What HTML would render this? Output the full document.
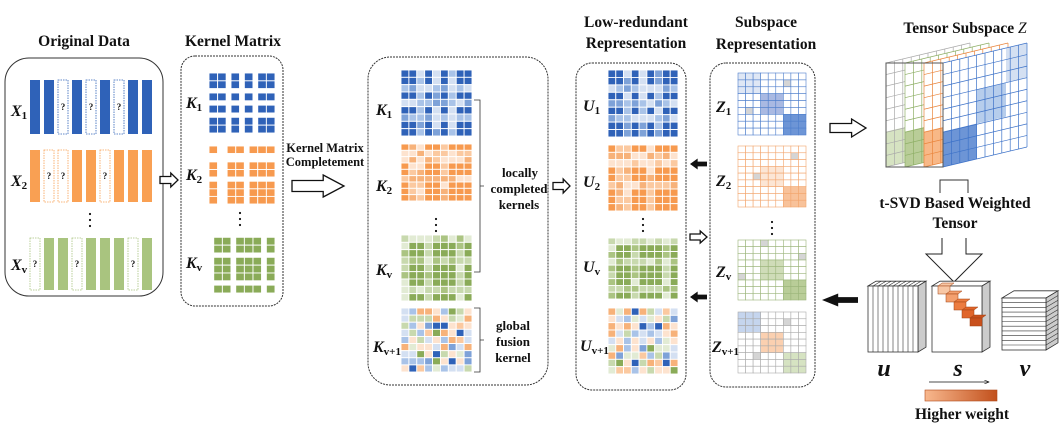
<!DOCTYPE html>
<html><head><meta charset="utf-8"><style>
html,body{margin:0;padding:0;background:#fff;}
svg{display:block;font-family:"Liberation Serif",serif;}
</style></head><body>
<svg id="s" width="1060" height="447" viewBox="0 0 1060 447" xmlns="http://www.w3.org/2000/svg">
<defs>
<marker id="ah" markerWidth="8" markerHeight="6" refX="7" refY="3" orient="auto"><path d="M0,0 L7,3 L0,6" fill="none" stroke="#000" stroke-width="0.8"/></marker>
<linearGradient id="gw" x1="0" x2="1"><stop offset="0" stop-color="#f8b88e"/><stop offset="1" stop-color="#c2501c"/></linearGradient>
</defs>
<g font-weight="bold" font-size="15.5" text-anchor="middle" fill="#111">
<text x="84" y="46">Original Data</text>
<text x="233" y="46">Kernel Matrix</text>
<text x="636" y="27">Low-redundant</text>
<text x="636" y="48">Representation</text>
<text x="766" y="27">Subspace</text>
<text x="766" y="49">Representation</text>
<text x="965" y="33">Tensor Subspace <tspan font-style="italic" font-weight="normal">Z</tspan></text>
<text x="955" y="208">t-SVD Based Weighted</text>
<text x="955" y="228">Tensor</text>
<text x="962" y="419">Higher weight</text>
<text x="520" y="177" font-size="13">locally</text>
<text x="519" y="193" font-size="13">completed</text>
<text x="519" y="209" font-size="13">kernels</text>
<text x="513" y="330" font-size="13">global</text>
<text x="513" y="346" font-size="13">fusion</text>
<text x="513" y="362" font-size="13">kernel</text>
<text x="325" y="152" font-size="12.5">Kernel Matrix</text>
<text x="325" y="166" font-size="12.5">Completement</text>
</g>
<g fill="none" stroke="#333" stroke-width="1">
<rect x="5" y="58" width="158" height="238" rx="24"/>
<rect x="181" y="56" width="102" height="250" rx="14" stroke-dasharray="2,1"/>
<rect x="368" y="57" width="180" height="328" rx="22" stroke-dasharray="2,1"/>
<rect x="576" y="63" width="110" height="327" rx="16" stroke-dasharray="2,1"/>
<rect x="710" y="63" width="105" height="324" rx="16" stroke-dasharray="2,1"/>
<path d="M474,100 H480 V272 H474 M480,186 H484" stroke-width="0.8"/>
<path d="M474,308 H480 V372 H474 M480,340 H484" stroke-width="0.8"/>
<path d="M940,193 V180 H968 V193" stroke-width="1"/>
</g>
<g id="g"></g>
<g font-weight="bold" font-style="italic" font-size="16" fill="#111" id="lab"></g>
</svg>
<script>
const NS="http://www.w3.org/2000/svg",G=document.getElementById('g'),L=document.getElementById('lab');
function el(t,a,p){const e=document.createElementNS(NS,t);for(const k in a)e.setAttribute(k,a[k]);(p||G).appendChild(e);return e;}
const C={b:['#2f62b8','#a9c3e8','#d4e0f2','#7ea2d8'],o:['#f79a4f','#fbc9a0','#fde3cf','#f7b27a'],g:['#8aab58','#c8d9ae','#e2ebd4','#abc482']};
function lab(x,y,m,sub){const t=el('text',{x:x,y:y},L);t.textContent=m;const s=el('tspan',{'font-size':11,'font-style':'normal',dy:3},t);s.textContent=sub;}
function hollowR(x,y,w,h){el('path',{d:`M${x},${y-h*0.25} H${x+w*0.6} V${y-h*0.5} L${x+w},${y} L${x+w*0.6},${y+h*0.5} V${y+h*0.25} H${x} Z`,fill:'#fff',stroke:'#111','stroke-width':1.3});}
function blackL(x,y,w,h){el('path',{d:`M${x+w},${y-h*0.22} H${x+w*0.45} V${y-h*0.5} L${x},${y} L${x+w*0.45},${y+h*0.5} V${y+h*0.22} H${x+w} Z`,fill:'#111'});}
function bars(y,h,col,miss){for(let i=0;i<9;i++){const x=30+i*14;if(miss.includes(i)){el('rect',{x:x,y:y,width:10,height:h,fill:'#fff',stroke:col,'stroke-width':0.8,'stroke-dasharray':'1.5,1'});const t=el('text',{x:x+5,y:y+h/2+3,'font-size':9,'font-weight':'bold','text-anchor':'middle',fill:'#111','font-family':'Liberation Serif'});t.textContent='?';}else el('rect',{x:x,y:y,width:10,height:h,fill:col});}}
bars(80,54,'#2f62b8',[2,4,6]);bars(150,52,'#f9a053',[1,2,5]);bars(238,52,'#a9c47f',[0,3,7]);
lab(11,116,'X','1');lab(11,186,'X','2');lab(11,270,'X','v');
for(const y of [214,220,226])el('circle',{cx:90,cy:y,r:1.1,fill:'#111'});
let seed=7;function rnd(){seed=(seed*9301+49297)%233280;return seed/233280;}
function sizes(n,miss,total,mode){const w=[];for(let i=0;i<n;i++)w.push(mode==0&&miss.includes(i)?0.55:1);const s=w.reduce((a,b)=>a+b,0);let acc=0;const pos=[];for(let i=0;i<n;i++){pos.push([acc*total/s,w[i]*total/s]);acc+=w[i];}return pos;}
function kgrid(x,y,w,h,c,miss,mode){const n=9;const cp=sizes(n,miss,w,mode),rp=sizes(n,miss,h,mode);for(let r=0;r<n;r++)for(let q=0;q<n;q++){let f;const m=miss.includes(r)||miss.includes(q);
if(mode==0)f=m?'#fff':c[0];else if(mode==1)f=m?[c[1],c[2],c[3]][Math.floor(rnd()*3)]:c[0];else{const cs=[C.b[1],C.b[2],C.o[1],C.o[2],C.g[1],C.g[2],C.b[3],C.o[3],C.b[2],C.o[2]];f=cs[Math.floor(rnd()*cs.length)];if(rnd()<0.06)f=C.g[0];if(rnd()<0.06)f=C.b[0];}
el('rect',{x:x+cp[q][0],y:y+rp[r][0],width:cp[q][1],height:rp[r][1],fill:f,stroke:'#fff','stroke-width':0.9});}}
const M1=[2,4,6],M2=[1,2,5],M3=[0,3,7];
kgrid(209,73,66,60,C.b,M1,0);kgrid(209,146,66,58,C.o,M2,0);kgrid(209,233,66,60,C.g,M3,0);
lab(186,108,'K','1');lab(186,180,'K','2');lab(186,268,'K','v');
for(const y of [213,219,225])el('circle',{cx:240,cy:y,r:1.1,fill:'#111'});
kgrid(401,70,71,66,C.b,M1,1);kgrid(401,144,71,57,C.o,M2,1);kgrid(401,235,71,66,C.g,M3,1);kgrid(401,308,71,64,null,[],2);
lab(376,115,'K','1');lab(376,191,'K','2');lab(376,275,'K','v');lab(373,352,'K','v+1');
for(const y of [219,225,231])el('circle',{cx:436,cy:y,r:1.1,fill:'#111'});
kgrid(608,70,70,67,C.b,M1,1);kgrid(608,145,70,66,C.o,M2,1);kgrid(608,238,70,61,C.g,M3,1);kgrid(608,308,70,66,null,[],2);
lab(583,111,'U','1');lab(583,187,'U','2');lab(583,272,'U','v');lab(580,351,'U','v+1');
for(const y of [219,225,231])el('circle',{cx:643,cy:y,r:1.1,fill:'#111'});
function zgrid(x,y,w,h,col,light,blocks,grays){const n=9,cw=w/n,ch=h/n;for(let r=0;r<n;r++)for(let q=0;q<n;q++){let f='#fff';for(const b of blocks)if(r>=b[0]&&r<b[1]&&q>=b[2]&&q<b[3])f=b[4]||light;for(const g of grays)if(g[0]==r&&g[1]==q)f='#d5d5d5';el('rect',{x:x+q*cw,y:y+r*ch,width:cw,height:ch,fill:f,stroke:col,'stroke-width':0.6});}}
zgrid(738,73,68,62,'#4f7fcc','#c5d5ee',[[3,6,3,6,'#a9b9e2'],[6,9,6,9,'#6d95d6'],[0,3,0,3,'#dfe7f5']],[[1,6],[5,1]]);
zgrid(738,146,68,61,'#f2a56d','#fbd9bd',[[3,6,3,6,'#fce6d5'],[6,9,6,9,'#f8c29a']],[[1,7],[4,2]]);
zgrid(738,240,68,60,'#9bb57a','#dce7cc',[[3,6,3,6,'#cfdcb8'],[6,9,6,9,'#b9cd98']],[[0,3],[2,8],[5,0]]);
zgrid(738,312,68,61,'#aaa','#eee',[[0,3,0,3,'#c5d5ee'],[3,6,3,6,'#fbd0b0'],[6,9,6,9,'#d6e3c2']],[[1,6],[6,2]]);
lab(716,112,'Z','1');lab(716,186,'Z','2');lab(716,277,'Z','v');lab(712,352,'Z','v+1');
for(const y of [222,228,234])el('circle',{cx:772,cy:y,r:1.1,fill:'#111'});
hollowR(160,180,18,14);hollowR(292,186,52,22);hollowR(553,186,17,14);hollowR(690,237,17,12);hollowR(830,128,36,18);
blackL(690,164,17,11);blackL(690,297,17,11);blackL(822,300,36,13);
el('path',{d:'M942,238 V254 H926 L954,282 L982,254 H966 V238',fill:'#fff',stroke:'#222','stroke-width':1});
function slice(x0,col,fillCol,hi){const cols=10,rows=9,W=84,H=104,sk=-20;
const P=(u,v)=>[x0+u*W,63+v*H+sk*u];
const poly=[P(0,0),P(1,0),P(1,1),P(0,1)].map(p=>p.join(',')).join(' ');el('polygon',{points:poly,fill:'#fff'});
for(const hb of hi){const [u0,u1,v0,v1,c]=hb;el('polygon',{points:[P(u0,v0),P(u1,v0),P(u1,v1),P(u0,v1)].map(p=>p.join(',')).join(' '),fill:c});}
for(let i=0;i<=cols;i++){const a=P(i/cols,0),b=P(i/cols,1);el('line',{x1:a[0],y1:a[1],x2:b[0],y2:b[1],stroke:col,'stroke-width':0.7});}
for(let j=0;j<=rows;j++){const a=P(0,j/rows),b=P(1,j/rows);el('line',{x1:a[0],y1:a[1],x2:b[0],y2:b[1],stroke:col,'stroke-width':0.7});}}
slice(886,'#aaa',0,[[0,1,0.66,1,'#d6e3c2']]);slice(905,'#8fb067',0,[[0,1,0.66,1,'#b9cd98']]);slice(924,'#e9853d',0,[[0,1,0.66,1,'#f8b887']]);
slice(943,'#3d72c8',0,[[0,0.4,0.66,1,'#6d95d6'],[0.4,0.75,0.33,0.66,'#b6cdec'],[0.75,1,0,0.33,'#d4e0f2']]);
el('rect',{x:886,y:63,width:57,height:104,fill:'none',stroke:'#555','stroke-width':1});
function cube(x,y,w,h,d){el('polygon',{points:`${x},${y} ${x+d},${y-d*0.6} ${x+w+d},${y-d*0.6} ${x+w},${y}`,fill:'#fff',stroke:'#333','stroke-width':0.8});
el('polygon',{points:`${x+w},${y} ${x+w+d},${y-d*0.6} ${x+w+d},${y+h-d*0.6} ${x+w},${y+h}`,fill:'#ccc',stroke:'#333','stroke-width':0.8});
el('rect',{x:x,y:y,width:w,height:h,fill:'#fff',stroke:'#333','stroke-width':0.8});}
cube(868,286,50,66,8);for(let i=1;i<10;i++){const xx=868+i*5;el('line',{x1:xx,y1:286,x2:xx,y2:352,stroke:'#333','stroke-width':0.6});el('line',{x1:xx,y1:286,x2:xx+8,y2:281.2,stroke:'#333','stroke-width':0.6});}
cube(932,286,50,66,8);
const sc=['#f8c7a5','#f4a06f','#ec7c40','#e0652a','#c9501c'];for(let i=0;i<5;i++){const x=938+i*8,y=286+i*8;el('polygon',{points:`${x},${y} ${x+4},${y-3} ${x+16},${y-3} ${x+12},${y}`,fill:sc[i],stroke:'#a04010','stroke-width':0.5});el('rect',{x:x,y:y,width:12,height:8,fill:sc[i],stroke:'#a04010','stroke-width':0.5});}
cube(1002,298,44,52,12);for(let i=1;i<11;i++){const yy=298+i*4.7;el('line',{x1:1002,y1:yy,x2:1046,y2:yy,stroke:'#333','stroke-width':0.6});el('line',{x1:1046,y1:yy,x2:1058,y2:yy-7.2,stroke:'#333','stroke-width':0.6});}
for(const [x,t] of [[884,'u'],[958,'s'],[1025,'v']]){const e=el('text',{x:x,y:376,'font-size':24,'font-weight':'bold','font-style':'italic','text-anchor':'middle',fill:'#111'});e.textContent=t;}
el('line',{x1:929,y1:382,x2:989,y2:382,stroke:'#111','stroke-width':0.7,'marker-end':'url(#ah)'});
el('rect',{x:925,y:390,width:72,height:11,fill:'url(#gw)',stroke:'#b04a1a','stroke-width':0.6});
</script>
</body></html>
